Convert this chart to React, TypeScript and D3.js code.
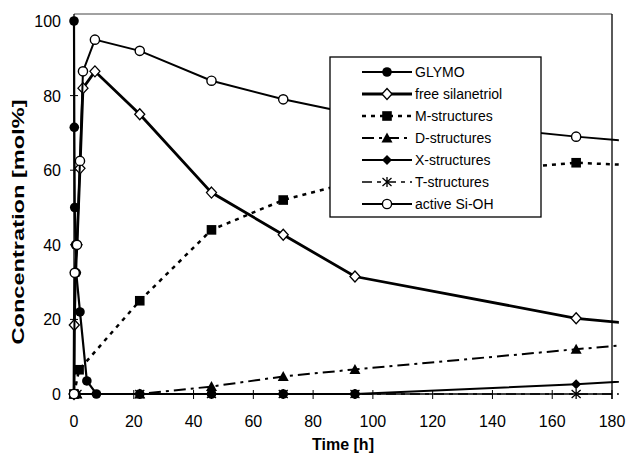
import * as d3 from "d3";

// series names, in legend order
const seriesNames = [
  "GLYMO",
  "free silanetriol",
  "M-structures",
  "D-structures",
  "X-structures",
  "T-structures",
  "active Si-OH",
];

// time [h] and concentration [mol%] per series
const glymoTime = [0, 0.1, 0.25, 0.5, 0.75, 2, 4.3, 7.5, 22, 46, 70, 94];
const glymoConc = [100, 71.5, 50, 40, 32.5, 22, 3.5, 0, 0, 0, 0, 0];

const silanetriolTime = [0, 0.1, 0.5, 1, 2, 3, 7, 22, 46, 70, 94, 168, 200];
const silanetriolConc = [0, 18.5, 32.5, 40, 60.5, 82, 86.5, 75, 54, 42.7, 31.5, 20.3, 17.8];

const mTime = [0, 1.7, 22, 46, 70, 94, 168, 200];
const mConc = [0, 6.5, 25, 44, 52, 57, 62, 60.9];

const dTime = [0, 1, 22, 46, 70, 94, 168, 200];
const dConc = [0, 0, 0, 2, 4.7, 6.6, 12, 14.2];

const xTime = [0, 1, 22, 46, 70, 94, 168, 200];
const xConc = [0, 0, 0, 0, 0, 0, 2.6, 4.2];

const tTime = [0, 1, 22, 46, 70, 94, 168, 200];
const tConc = [0, 0, 0, 0, 0, 0, 0, 0];

const siohTime = [0, 0.25, 1, 2, 3, 7, 22, 46, 70, 94, 168, 200];
const siohConc = [0, 32.5, 40, 62.5, 86.5, 95, 92, 84, 79, 75, 69, 66.8];

const xTicks = [0, 20, 40, 60, 80, 100, 120, 140, 160, 180];
const yTicks = [0, 20, 40, 60, 80, 100];

type Kind = "dot" | "odiamond" | "square" | "triangle" | "fdiamond" | "star" | "ring";

const STYLES: { kind: Kind; width: number; dash?: string }[] = [
  { kind: "dot", width: 2.2 },
  { kind: "odiamond", width: 2.8 },
  { kind: "square", width: 2.5, dash: "4 5" },
  { kind: "triangle", width: 2, dash: "12 5 3 5" },
  { kind: "fdiamond", width: 2 },
  { kind: "star", width: 1.5, dash: "10 5 4 5" },
  { kind: "ring", width: 2 },
];

const SERIES = [
  [glymoTime, glymoConc],
  [silanetriolTime, silanetriolConc],
  [mTime, mConc],
  [dTime, dConc],
  [xTime, xConc],
  [tTime, tConc],
  [siohTime, siohConc],
].map(([t, v], i) => ({
  name: seriesNames[i],
  ...STYLES[i],
  pts: t.map((tt, j) => [tt, v[j]] as [number, number]),
}));

function Marker({ kind, x, y }: { kind: Kind; x: number; y: number }) {
  switch (kind) {
    case "dot":
      return <circle cx={x} cy={y} r={4.8} fill="#000" />;
    case "ring":
      return <circle cx={x} cy={y} r={4.6} fill="#fff" stroke="#000" strokeWidth={1.4} />;
    case "odiamond":
      return (
        <path d={`M${x},${y - 5.5}L${x + 5},${y}L${x},${y + 5.5}L${x - 5},${y}Z`}
          fill="#fff" stroke="#000" strokeWidth={1.3} />
      );
    case "square":
      return <rect x={x - 4.8} y={y - 4.8} width={9.6} height={9.6} fill="#000" />;
    case "triangle":
      return <path d={`M${x},${y - 5.5}L${x + 5.5},${y + 4.5}L${x - 5.5},${y + 4.5}Z`} fill="#000" />;
    case "fdiamond":
      return <path d={`M${x},${y - 5}L${x + 5},${y}L${x},${y + 5}L${x - 5},${y}Z`} fill="#000" />;
    case "star":
      return (
        <path d={`M${x},${y - 5}V${y + 5}M${x - 4.5},${y - 4}L${x + 4.5},${y + 4}M${x - 4.5},${y + 4}L${x + 4.5},${y - 4}`}
          stroke="#000" strokeWidth={1.3} fill="none" />
      );
  }
}

export default function App() {
  const W = 627, H = 456;
  const x = d3.scaleLinear().domain([0, 180]).range([74, 612]);
  const y = d3.scaleLinear().domain([0, 100]).range([394, 21]);
  const line = d3.line<[number, number]>().x((d) => x(d[0])).y((d) => y(d[1]));
  const font = "Arial, 'Liberation Sans', sans-serif";
  const frameTop = y(100) - 7;
  const clipRight = x(182.3);

  // legend layout
  const lg = { x: 330, y: 57, w: 211, h: 160, row0: 72, step: 22 };

  return (
    <svg width={W} height={H} viewBox={`0 0 ${W} ${H}`}
      style={{ position: "absolute", left: 0, top: 0, background: "#fff" }} fontFamily={font}>
      <defs>
        <clipPath id="plotclip">
          <rect x={0} y={0} width={clipRight} height={H} />
        </clipPath>
      </defs>
      <rect width={W} height={H} fill="#fff" />

      {/* frame */}
      <line x1={x(0)} x2={x(180)} y1={frameTop} y2={frameTop} stroke="#444" strokeWidth={1} />
      <line x1={x(180)} x2={x(180)} y1={frameTop} y2={y(0) + 5} stroke="#000" strokeWidth={1.3} />
      <line x1={x(0)} x2={x(0)} y1={frameTop} y2={y(0)} stroke="#000" strokeWidth={1.3} />
      <line x1={x(0)} x2={x(180)} y1={y(0)} y2={y(0)} stroke="#000" strokeWidth={1.3} />

      {yTicks.map((t) => (
        <g key={"y" + t}>
          <line x1={x(0) - 4} x2={x(0) + 4} y1={y(t)} y2={y(t)} stroke="#000" strokeWidth={1} />
          <text x={61} y={y(t) + 6} textAnchor="end" fontSize={16} fill="#000">{t}</text>
        </g>
      ))}
      {xTicks.map((t) => (
        <g key={"x" + t}>
          <line x1={x(t)} x2={x(t)} y1={y(0) - 4} y2={y(0) + 5} stroke="#000" strokeWidth={1} />
          <text x={x(t)} y={427} textAnchor="middle" fontSize={16} fill="#000">{t}</text>
        </g>
      ))}

      <text x={343} y={450} textAnchor="middle" fontSize={16} fontWeight="bold">Time [h]</text>
      <text transform="translate(24,222) rotate(-90)" textAnchor="middle" fontSize={17}
        fontWeight="bold" textLength={245} lengthAdjust="spacingAndGlyphs">
        Concentration [mol%]
      </text>

      {SERIES.map((s) => (
        <g key={s.name}>
          <path d={line(s.pts) ?? ""} fill="none" stroke="#000" strokeWidth={s.width}
            strokeDasharray={s.dash} clipPath="url(#plotclip)" />
          {s.pts.filter((p) => p[0] <= 180).map((p, j) => (
            <Marker key={j} kind={s.kind} x={x(p[0])} y={y(p[1])} />
          ))}
        </g>
      ))}

      {/* legend */}
      <rect x={lg.x} y={lg.y} width={lg.w} height={lg.h} fill="#fff" stroke="#000" strokeWidth={1.3} />
      {SERIES.map((s, i) => {
        const ry = lg.row0 + i * lg.step;
        return (
          <g key={"lg" + s.name}>
            <line x1={362} x2={412} y1={ry} y2={ry} stroke="#000" strokeWidth={s.width}
              strokeDasharray={s.dash} />
            <Marker kind={s.kind} x={387} y={ry} />
            <text x={415} y={ry + 5} fontSize={14} fill="#000">{s.name}</text>
          </g>
        );
      })}
    </svg>
  );
}
